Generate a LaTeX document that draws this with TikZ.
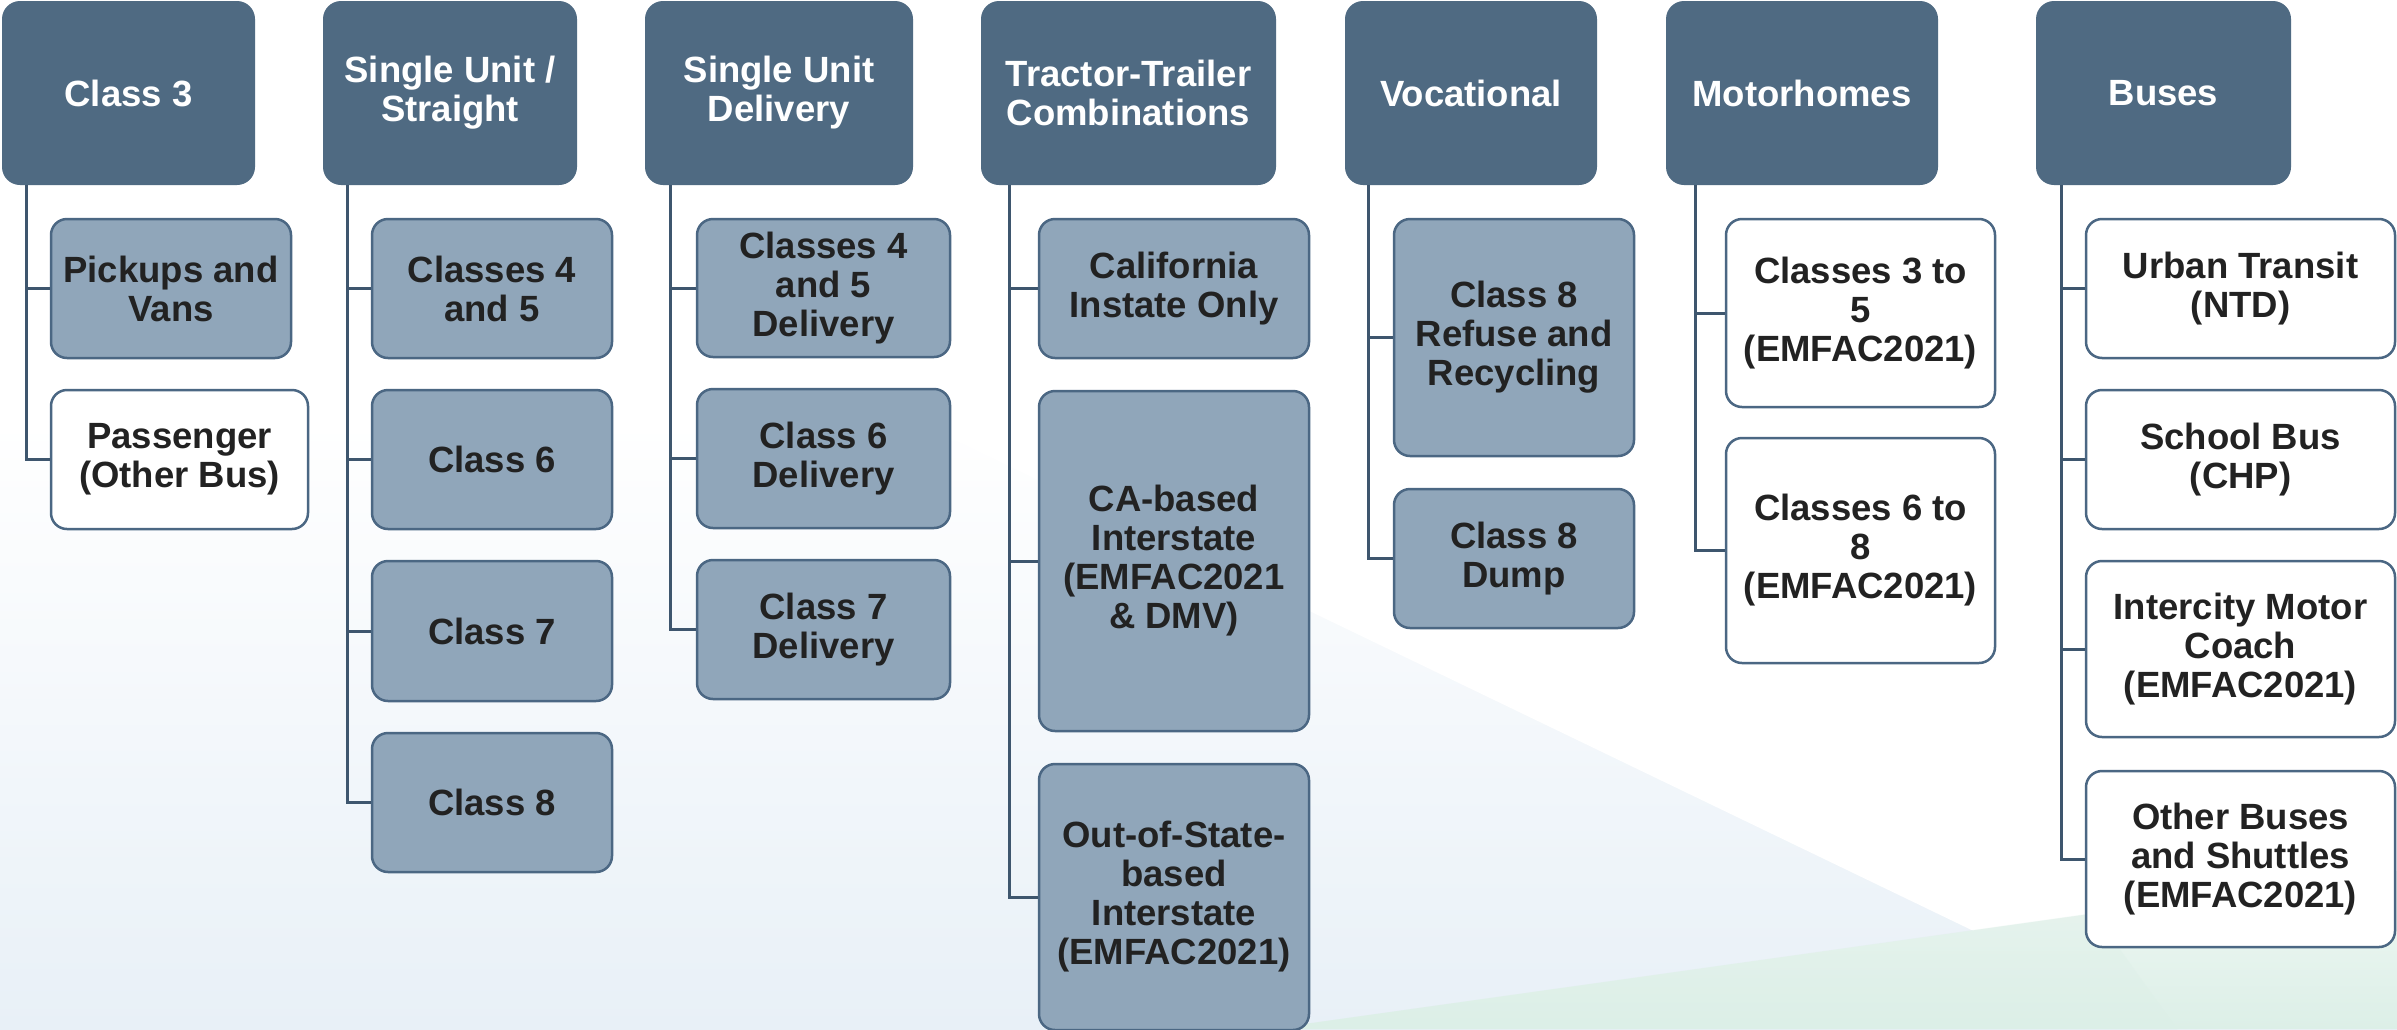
\documentclass[tikz,border=0pt]{standalone}
\usepackage{fontspec}
\setmainfont{Liberation Sans}
\definecolor{hdr}{HTML}{4F6A82}
\definecolor{cfill}{HTML}{90A6BA}
\definecolor{cborder}{HTML}{4B6783}
\definecolor{trunk}{HTML}{3E566E}
\definecolor{txt}{HTML}{222222}
\definecolor{bgblue}{HTML}{E8F0F7}
\definecolor{bggreen}{HTML}{DCEFE7}
\definecolor{bggreenlight}{HTML}{F0F8F4}
\newcommand\mkbox[7]{\node[#1, minimum width={#5-#3}, minimum height={#6-#4}] (#2) at ({(#3+#5)/2},{(#4+#6)/2}) {#7};}
\begin{document}
\begin{tikzpicture}[x=1pt,y=-1pt,
  hdrbox/.style={fill=hdr, rounded corners=18pt, inner sep=0pt, align=center, text=white,
    font=\fontsize{36.5}{39}\selectfont\bfseries},
  kid/.style={draw=cborder, line width=2.5pt, rounded corners=16pt, inner sep=0pt, align=center, text=txt,
    font=\fontsize{36.5}{39}\selectfont\bfseries},
  kidg/.style={kid, fill=cfill},
  kidw/.style={kid, fill=white},
  link/.style={draw=trunk, line width=3pt}]
% background
\useasboundingbox (0,0) rectangle (2397,1029);
\fill[white] (0,0) rectangle (2397,1029);
\shade[top color=white, bottom color=bgblue] (0,420) rectangle (2397,1029);
\fill[white] (913,420) -- (2177,1029) -- (2397,1029) -- (2397,420) -- cycle;
\shade[top color=bggreenlight, bottom color=bggreen] (1269,1029) -- (2397,871) -- (2397,1029) -- cycle;
\fill[bggreen, opacity=0.35] (1269,1029) -- (2094,913) -- (2177,1029) -- cycle;
% headers
\mkbox{hdrbox}{h1}{2}{1}{255}{185}{Class 3}
\mkbox{hdrbox}{h2}{323}{1}{577}{185}{Single Unit /\\Straight}
\mkbox{hdrbox}{h3}{645}{1}{913}{185}{Single Unit\\Delivery}
\mkbox{hdrbox}{h4}{981}{1}{1276}{185}{Tractor-Trailer\\Combinations}
\mkbox{hdrbox}{h5}{1345}{1}{1597}{185}{Vocational}
\mkbox{hdrbox}{h6}{1666}{1}{1938}{185}{Motorhomes}
\mkbox{hdrbox}{h7}{2036}{1}{2291}{185}{Buses}
% column 1
\mkbox{kidg}{a1}{51}{219}{291}{358}{Pickups and\\Vans}
\mkbox{kidw}{a2}{51}{390}{308}{529}{Passenger\\(Other Bus)}
% column 2
\mkbox{kidg}{b1}{372}{219}{612}{358}{Classes 4\\and 5}
\mkbox{kidg}{b2}{372}{390}{612}{529}{Class 6}
\mkbox{kidg}{b3}{372}{561}{612}{701}{Class 7}
\mkbox{kidg}{b4}{372}{733}{612}{872}{Class 8}
% column 3
\mkbox{kidg}{c1}{697}{219}{950}{357}{Classes 4\\and 5\\Delivery}
\mkbox{kidg}{c2}{697}{389}{950}{528}{Class 6\\Delivery}
\mkbox{kidg}{c3}{697}{560}{950}{699}{Class 7\\Delivery}
% column 4
\mkbox{kidg}{d1}{1039}{219}{1309}{358}{California\\Instate Only}
\mkbox{kidg}{d2}{1039}{391}{1309}{731}{CA-based\\Interstate\\(EMFAC2021\\\& DMV)}
\mkbox{kidg}{d3}{1039}{764}{1309}{1030}{Out-of-State-\\based\\Interstate\\(EMFAC2021)}
% column 5
\mkbox{kidg}{e1}{1394}{219}{1634}{456}{Class 8\\Refuse and\\Recycling}
\mkbox{kidg}{e2}{1394}{489}{1634}{628}{Class 8\\Dump}
% column 6
\mkbox{kidw}{f1}{1726}{219}{1995}{407}{Classes 3 to\\5\\(EMFAC2021)}
\mkbox{kidw}{f2}{1726}{438}{1995}{663}{Classes 6 to\\8\\(EMFAC2021)}
% column 7
\mkbox{kidw}{g1}{2086}{219}{2395}{358}{Urban Transit\\(NTD)}
\mkbox{kidw}{g2}{2086}{390}{2395}{529}{School Bus\\(CHP)}
\mkbox{kidw}{g3}{2086}{561}{2395}{737}{Intercity Motor\\Coach\\(EMFAC2021)}
\mkbox{kidw}{g4}{2086}{771}{2395}{947}{Other Buses\\and Shuttles\\(EMFAC2021)}
% trunks
\coordinate (t1) at (26,185);
\coordinate (t2) at (347,185);
\coordinate (t3) at (670,185);
\coordinate (t4) at (1009,185);
\coordinate (t5) at (1368,185);
\coordinate (t6) at (1695,185);
\coordinate (t7) at (2061,185);
\draw[link] (t1) |- (a1.west); \draw[link] (t1) |- (a2.west);
\draw[link] (t2) |- (b1.west); \draw[link] (t2) |- (b2.west);
\draw[link] (t2) |- (b3.west); \draw[link] (t2) |- (b4.west);
\draw[link] (t3) |- (c1.west); \draw[link] (t3) |- (c2.west); \draw[link] (t3) |- (c3.west);
\draw[link] (t4) |- (d1.west); \draw[link] (t4) |- (d2.west); \draw[link] (t4) |- (d3.west);
\draw[link] (t5) |- (e1.west); \draw[link] (t5) |- (e2.west);
\draw[link] (t6) |- (f1.west); \draw[link] (t6) |- (f2.west);
\draw[link] (t7) |- (g1.west); \draw[link] (t7) |- (g2.west);
\draw[link] (t7) |- (g3.west); \draw[link] (t7) |- (g4.west);
\end{tikzpicture}
\end{document}
